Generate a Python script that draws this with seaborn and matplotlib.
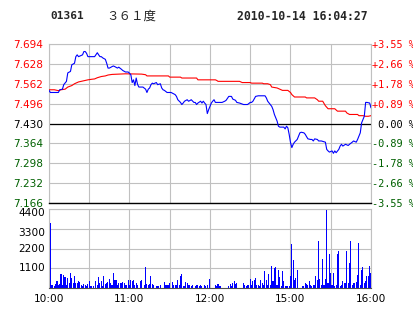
import numpy as np
import pandas as pd
import matplotlib
matplotlib.use("Agg")
import matplotlib.pyplot as plt
import matplotlib.transforms as mtransforms
import seaborn as sns

# ---------------- data ----------------
code = "01361"
name = "３６１度"
stamp = "2010-10-14 16:04:27"
prev_close = 7.430

# trading minutes since 10:00 (12:30 and 14:30 share minute 150)
price_min = [0, 1, 7, 8, 10, 11, 13, 14, 16, 17, 19, 20, 21, 22, 23, 25, 26, 27, 28, 29,
             34, 36, 37, 38, 39, 40, 42, 43, 44, 45, 47, 48, 49, 51, 52, 54, 55, 57, 59, 60,
             61, 62, 63, 64, 65, 66, 67, 70, 72, 73, 74, 75, 76, 77, 78, 80, 81, 83, 84, 85,
             86, 88, 91, 94, 95, 96, 98, 99, 100, 101, 103, 104, 105, 106, 108, 109, 110, 111, 113, 114,
             115, 116, 117, 118, 119, 120, 121, 122, 123, 124, 129, 131, 132, 134, 136, 137, 139, 140, 142, 145,
             148, 150, 151, 152, 154, 156, 161, 162, 163, 165, 166, 167, 168, 170, 171, 172, 175, 176, 177, 178,
             179, 180, 181, 182, 183, 185, 186, 187, 188, 190, 191, 192, 193, 195, 196, 197, 198, 200, 201, 203,
             206, 207, 208, 209, 211, 212, 213, 214, 216, 217, 218, 219, 221, 223, 224, 226, 227, 229, 230, 232,
             233, 234, 235, 236, 237, 239, 240]
price_val = [7.540, 7.533, 7.533, 7.542, 7.544, 7.559, 7.570, 7.598, 7.603, 7.625, 7.630, 7.652, 7.658, 7.652, 7.654, 7.658, 7.669, 7.669, 7.663, 7.652,
             7.652, 7.665, 7.658, 7.652, 7.652, 7.648, 7.643, 7.630, 7.614, 7.614, 7.619, 7.621, 7.619, 7.614, 7.617, 7.610, 7.606, 7.601, 7.601, 7.597,
             7.592, 7.566, 7.575, 7.556, 7.581, 7.560, 7.551, 7.551, 7.544, 7.533, 7.544, 7.548, 7.559, 7.564, 7.562, 7.566, 7.559, 7.562, 7.548, 7.542,
             7.540, 7.533, 7.533, 7.526, 7.520, 7.509, 7.500, 7.493, 7.498, 7.504, 7.509, 7.504, 7.506, 7.509, 7.500, 7.500, 7.493, 7.498, 7.504, 7.498,
             7.504, 7.498, 7.493, 7.463, 7.476, 7.487, 7.498, 7.504, 7.509, 7.500, 7.500, 7.504, 7.507, 7.520, 7.520, 7.511, 7.507, 7.500, 7.498, 7.493,
             7.493, 7.500, 7.500, 7.504, 7.520, 7.522, 7.522, 7.515, 7.504, 7.493, 7.487, 7.476, 7.460, 7.438, 7.421, 7.418, 7.418, 7.412, 7.421, 7.416,
             7.394, 7.367, 7.350, 7.361, 7.368, 7.377, 7.388, 7.399, 7.401, 7.399, 7.394, 7.386, 7.379, 7.377, 7.377, 7.372, 7.379, 7.377, 7.372, 7.372,
             7.368, 7.344, 7.339, 7.335, 7.339, 7.331, 7.339, 7.333, 7.344, 7.355, 7.361, 7.355, 7.361, 7.357, 7.361, 7.368, 7.372, 7.368, 7.377, 7.399,
             7.432, 7.443, 7.454, 7.500, 7.500, 7.498, 7.482]

avg_min = [0, 4, 6, 7, 9, 12, 14, 17, 19, 22, 24, 27, 29, 32, 34, 36, 39, 42, 44, 47,
           52, 57, 69, 72, 73, 89, 90, 98, 99, 110, 111, 124, 125, 126, 142, 144, 150, 151, 159, 160,
           163, 165, 166, 170, 174, 178, 180, 181, 183, 191, 192, 198, 200, 201, 204, 206, 208, 213, 215, 221,
           222, 224, 230, 231, 234, 236, 238, 240]
avg_val = [7.542, 7.542, 7.540, 7.539, 7.542, 7.544, 7.551, 7.556, 7.562, 7.568, 7.570, 7.573, 7.575, 7.577, 7.578, 7.582, 7.586, 7.588, 7.591, 7.593,
           7.594, 7.595, 7.594, 7.592, 7.588, 7.588, 7.584, 7.584, 7.581, 7.581, 7.575, 7.575, 7.573, 7.570, 7.570, 7.566, 7.566, 7.564, 7.564, 7.562,
           7.562, 7.559, 7.551, 7.548, 7.540, 7.540, 7.533, 7.526, 7.518, 7.518, 7.515, 7.515, 7.509, 7.504, 7.504, 7.489, 7.479, 7.479, 7.471, 7.471,
           7.465, 7.460, 7.460, 7.456, 7.456, 7.454, 7.454, 7.456]

# volume per trading minute (minute 0 .. 239)
volume = [3600, 190, 190, 100, 240, 410, 150, 240, 800, 150,
          700, 600, 190, 560, 300, 850, 560, 300, 650, 280,
          280, 400, 330, 180, 100, 220, 190, 100, 220, 410,
          130, 130, 130, 0, 410, 180, 600, 300, 400, 100,
          650, 200, 280, 330, 520, 280, 190, 850, 465, 465,
          190, 280, 280, 280, 330, 280, 190, 190, 465, 190,
          465, 410, 465, 190, 280, 190, 0, 410, 465, 0,
          190, 1190, 220, 190, 220, 650, 220, 190, 0, 130,
          130, 130, 190, 0, 0, 330, 190, 190, 190, 280,
          0, 330, 190, 190, 190, 465, 190, 690, 800, 130,
          130, 330, 280, 190, 190, 130, 190, 0, 130, 190,
          190, 130, 190, 130, 0, 190, 130, 190, 0, 520,
          0, 0, 0, 190, 130, 240, 130, 130, 0, 0,
          0, 0, 0, 130, 220, 130, 280, 410, 220, 280,
          0, 0, 0, 0, 280, 190, 130, 190, 190, 520,
          190, 410, 465, 560, 190, 190, 130, 465, 280, 190,
          970, 465, 190, 800, 190, 1230, 410, 1120, 1150, 190,
          1020, 600, 130, 930, 410, 130, 130, 130, 130, 690,
          2450, 1580, 465, 560, 1020, 0, 0, 0, 130, 130,
          280, 220, 190, 410, 190, 130, 190, 190, 690, 465,
          2640, 520, 190, 1640, 190, 520, 4320, 280, 1920, 840,
          190, 840, 130, 190, 1900, 2080, 130, 190, 410, 280,
          280, 2080, 280, 1400, 2600, 190, 280, 280, 330, 745,
          2500, 190, 1020, 1150, 280, 370, 650, 650, 1240, 840]

price_ticks = [7.694, 7.628, 7.562, 7.496, 7.430, 7.364, 7.298, 7.232, 7.166]
pct_labels = ["+3.55 %", "+2.66 %", "+1.78 %", "+0.89 %", " 0.00 %",
              "-0.89 %", "-1.78 %", "-2.66 %", "-3.55 %"]
vol_ticks = [1100, 2200, 3300, 4400]
time_ticks = [0, 60, 120, 180, 240]
time_labels = ["10:00", "11:00", "12:00", "15:00", "16:00"]

# ---------------- styling ----------------
sns.set_theme(style="white")
plt.rcParams["font.family"] = ["DejaVu Sans"]

RED = "#ff0000"
GREEN = "#006000"
BLUE = "#0000ff"
GRID = "#c0c0c0"
W, H = 414, 314

fig = plt.figure(figsize=(W / 100, H / 100), dpi=100)
fig.patch.set_facecolor("white")

axp = fig.add_axes([49 / W, 1 - 203 / H, 322 / W, 159 / H])
axv = fig.add_axes([49 / W, 1 - 288 / H, 322 / W, 79 / H])

price_df = pd.DataFrame({"minute": price_min, "price": price_val})
avg_df = pd.DataFrame({"minute": avg_min, "price": avg_val})

for ax in (axp, axv):
    ax.set_facecolor("white")
    ax.grid(False)
    for sp in ax.spines.values():
        sp.set_color(GRID)
        sp.set_linewidth(0.8)

# ---- price panel ----
sns.lineplot(data=avg_df, x="minute", y="price", color=RED, lw=0.8, ax=axp, zorder=3)
sns.lineplot(data=price_df, x="minute", y="price", color=BLUE, lw=0.8, ax=axp, zorder=4)
axp.set_xlim(0, 240)
axp.set_ylim(price_ticks[-1], price_ticks[0])
axp.set_yticks(price_ticks)
axp.set_yticklabels([f"{v:.3f}" for v in price_ticks], fontsize=7.6)
for lbl, v in zip(axp.get_yticklabels(), price_ticks):
    lbl.set_color(RED if v > prev_close + 1e-9 else (GREEN if v < prev_close - 1e-9 else "black"))
axp.set_xticks(np.arange(0, 241, 30))
axp.set_xticklabels([])
axp.tick_params(axis="both", which="both", length=0, pad=4)
axp.grid(True, which="both", color=GRID, lw=0.8, zorder=0)
axp.axhline(prev_close, color="black", lw=0.9, zorder=2)
axp.spines["bottom"].set_color("black")
axp.spines["bottom"].set_linewidth(1.0)
axp.set_xlabel("")
axp.set_ylabel("")

axr = axp.twinx()
axr.set_ylim(price_ticks[-1], price_ticks[0])
axr.set_yticks(price_ticks)
axr.set_yticklabels(pct_labels, fontsize=7.4, family="DejaVu Sans Mono")
for lbl, v in zip(axr.get_yticklabels(), price_ticks):
    lbl.set_color(RED if v > prev_close + 1e-9 else (GREEN if v < prev_close - 1e-9 else "black"))
axr.tick_params(axis="y", length=0, pad=1)
axr.grid(False)
for sp in axr.spines.values():
    sp.set_visible(False)

# ---- volume panel ----
vol_df = pd.DataFrame({"minute": np.arange(len(volume)), "volume": volume})
sns.histplot(data=vol_df, x="minute", weights="volume", bins=240, binrange=(0, 240),
             shrink=0.8, color=BLUE, alpha=1.0, linewidth=0, antialiased=False,
             ax=axv, zorder=3)
# nudge bars half a pixel right so the first bar clears the left frame line
nudge = mtransforms.ScaledTranslation(0.6 / 100, 0, fig.dpi_scale_trans)
for patch in axv.patches:
    patch.set_transform(axv.transData + nudge)
axv.set_xlim(0, 240)
axv.set_ylim(0, 4400)
axv.set_yticks(vol_ticks)
axv.set_yticklabels([])
lab_tr = mtransforms.blended_transform_factory(axv.transAxes, axv.transData)
for v in vol_ticks:
    shift = mtransforms.ScaledTranslation(0, (-4 if v >= 3300 else 0) / 100, fig.dpi_scale_trans)
    axv.text(-0.012, v, str(v), fontsize=7.6, ha="right", va="center",
             transform=lab_tr + shift, color="black")
axv.set_xticks(time_ticks)
axv.set_xticklabels(time_labels, fontsize=7.6)
axv.set_xticks(np.arange(0, 241, 30), minor=True)
axv.tick_params(axis="both", which="both", length=0, pad=4, colors="black")
axv.grid(True, which="both", color=GRID, lw=0.8, zorder=0)
axv.set_axisbelow(True)
axv.spines["bottom"].set_color("#505050")
axv.set_xlabel("")
axv.set_ylabel("")

# ---- header ----
fig.text(50 / W, 1 - 16 / H, code, fontsize=8, fontweight="bold",
         family="DejaVu Sans Mono", va="center", ha="left")
fig.text(106 / W, 1 - 16 / H, name, fontsize=9, family=["Noto Sans CJK SC", "DejaVu Sans"],
         va="center", ha="left")
fig.text(237 / W, 1 - 16 / H, stamp, fontsize=8.3, fontweight="bold",
         family="DejaVu Sans Mono", va="center", ha="left")

fig.savefig("out.png", dpi=100, facecolor="white")
